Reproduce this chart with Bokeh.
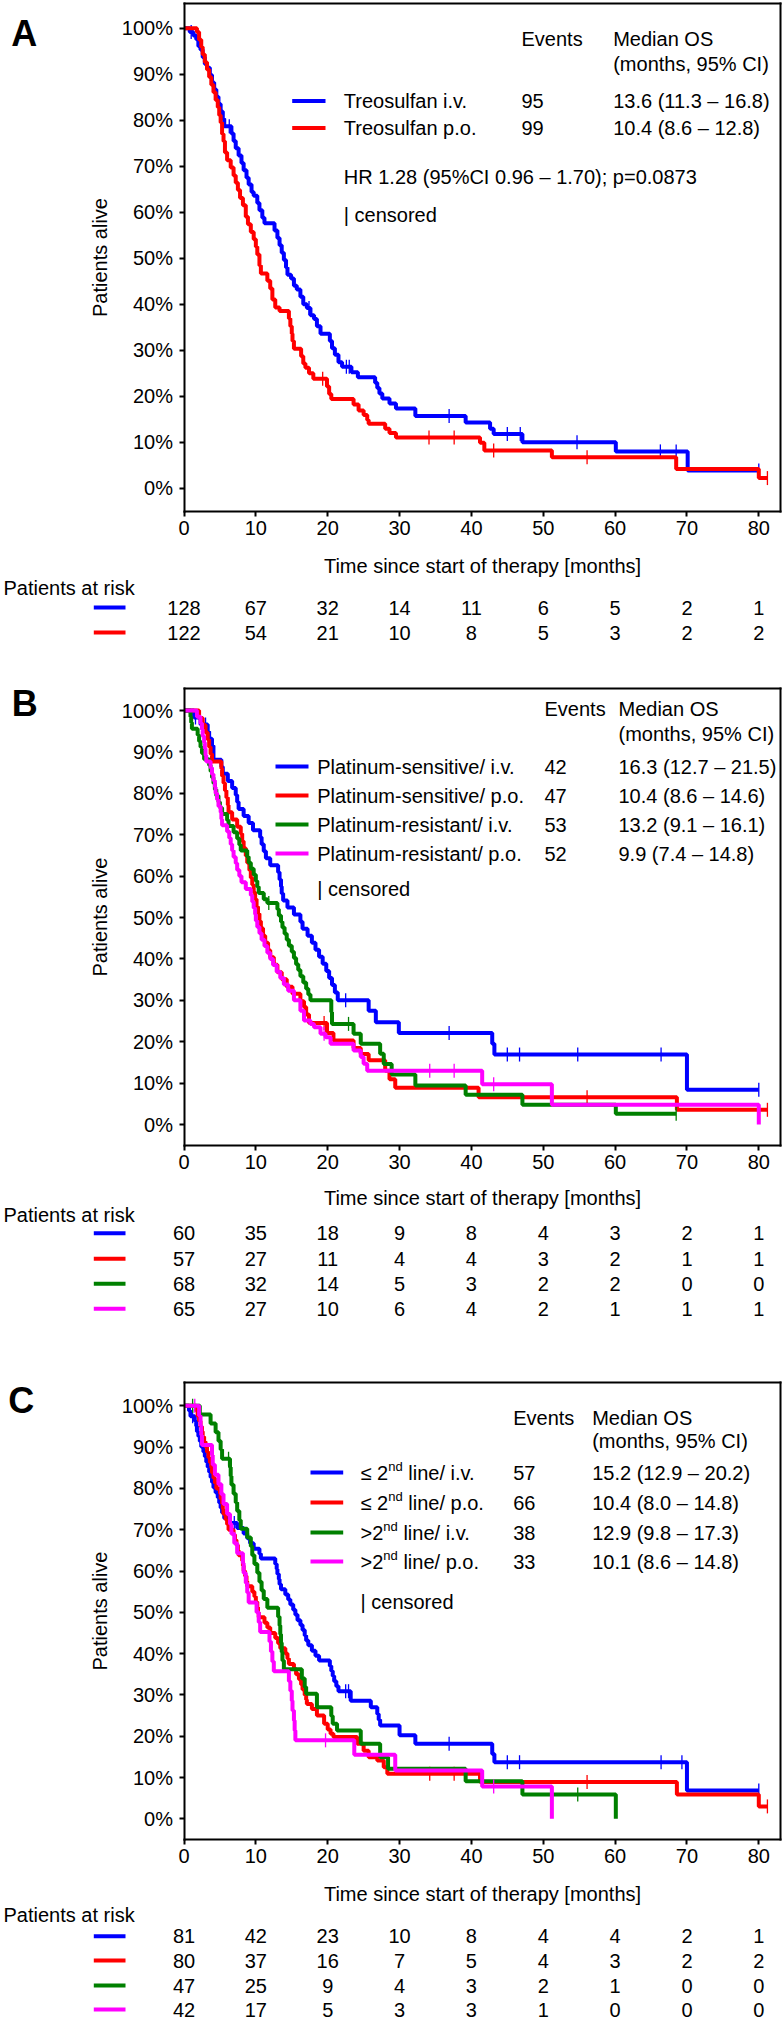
import math
from bokeh.plotting import figure
from bokeh.models import Range1d, FixedTicker, LinearAxis
from bokeh.embed import file_html
from bokeh.resources import INLINE
from bokeh.core.properties import value

# ---------------------------------------------------------------- data
X_TICKS = [0, 10, 20, 30, 40, 50, 60, 70, 80]
X_TICK_LABELS = ["0", "10", "20", "30", "40", "50", "60", "70", "80"]
Y_TICKS = [0, 10, 20, 30, 40, 50, 60, 70, 80, 90, 100]
Y_TICK_LABELS = ["0%", "10%", "20%", "30%", "40%", "50%", "60%", "70%", "80%", "90%", "100%"]
X_TITLE = "Time since start of therapy [months]"
Y_TITLE = "Patients alive"
RISK_TITLE = "Patients at risk"
HEAD_EVENTS = "Events"
HEAD_MEDIAN = "Median OS"
HEAD_MEDIAN2 = "(months, 95% CI)"
CENSORED = "| censored"

# Panel A: (time [months], survival [%]) after each step
A_IV = [(0, 100), (0.8, 99.2), (1.3, 98.4), (1.7, 97.6), (2.0, 96.1), (2.3, 95.3), (2.6, 93.7),
        (2.9, 92.2), (3.2, 91.4), (3.6, 89.8), (3.9, 88.2), (4.2, 86.7), (4.5, 85.1), (4.8, 83.5),
        (5.1, 81.9), (5.4, 80.3), (5.6, 78.7), (6.6, 77.1), (6.9, 75.5), (7.2, 73.9), (7.6, 72.3),
        (8.0, 70.7), (8.3, 69.1), (8.7, 67.5), (9.0, 66.0), (9.4, 64.4), (9.7, 63.6), (10.2, 62.0),
        (10.5, 60.4), (10.9, 58.8), (11.2, 57.6), (12.6, 56.0), (13.0, 54.4), (13.3, 52.8),
        (13.6, 51.2), (13.9, 49.6), (14.2, 48.0), (14.4, 46.4), (14.9, 45.6), (15.3, 44.0),
        (15.7, 43.2), (16.2, 41.6), (16.6, 40.0), (17.1, 39.2), (17.6, 37.6), (18.1, 36.8),
        (18.5, 35.2), (19.0, 33.6), (20.3, 32.0), (20.6, 30.4), (21.0, 29.0), (21.5, 27.4),
        (22.0, 26.4), (23.3, 25.2), (24.2, 24.1), (26.6, 22.9), (26.9, 21.8), (27.2, 20.6),
        (27.6, 19.5), (28.6, 18.4), (29.5, 17.3), (32.2, 15.7), (39.2, 14.3), (42.6, 12.9),
        (43.1, 11.8), (47.1, 10.0), (60.1, 8.0), (70.1, 3.85), (80.0, 3.85)]
A_IV_CENS = [1.0, 6.3, 17.4, 22.6, 23.0, 36.9, 45.0, 46.8, 54.7, 66.3, 68.5, 80.0]
A_PO = [(0, 100), (1.8, 99.2), (2.1, 97.5), (2.4, 95.9), (2.6, 94.3), (2.9, 92.6), (3.2, 91.0),
        (3.5, 89.4), (3.8, 87.7), (4.1, 86.1), (4.4, 84.4), (4.7, 82.8), (4.9, 81.1), (5.1, 79.5),
        (5.3, 77.0), (5.5, 75.4), (5.7, 73.0), (6.0, 71.3), (6.5, 69.7), (6.9, 68.0), (7.2, 66.4),
        (7.5, 64.8), (7.8, 63.1), (8.2, 61.5), (8.6, 59.0), (8.9, 57.4), (9.3, 55.7), (9.7, 54.1),
        (10.0, 52.5), (10.2, 50.8), (10.5, 48.4), (10.7, 46.7), (11.6, 45.1), (12.0, 43.4),
        (12.3, 41.0), (12.7, 39.3), (13.3, 38.5), (14.6, 36.9), (14.8, 35.2), (15.0, 33.6),
        (15.1, 32.0), (15.3, 30.3), (16.3, 28.7), (16.6, 27.1), (16.9, 26.2), (17.4, 25.0),
        (18.0, 23.8), (19.9, 22.1), (20.2, 20.5), (20.5, 19.4), (23.6, 18.2), (24.3, 16.9),
        (25.0, 15.9), (25.5, 14.8), (25.7, 14.0), (28.0, 12.9), (28.6, 12.0), (29.5, 11.0),
        (41.2, 9.9), (41.8, 8.2), (51.2, 6.75), (68.5, 4.2), (80.0, 2.2), (81.2, 2.2)]
A_PO_CENS = [19.3, 34.1, 37.6, 43.1, 56.1, 81.2]
A_NAMES = ["Treosulfan i.v.", "Treosulfan p.o."]
A_EVENTS = ["95", "99"]
A_MEDIANS = ["13.6 (11.3 \u2013 16.8)", "10.4 (8.6 \u2013 12.8)"]
A_HR = "HR 1.28 (95%CI 0.96 \u2013 1.70); p=0.0873"
A_RISK_IV = [128, 67, 32, 14, 11, 6, 5, 2, 1]
A_RISK_PO = [122, 54, 21, 10, 8, 5, 3, 2, 2]

# Panel B
B_S_IV = [(0, 100), (1.4, 98.3), (2.3, 96.6), (3.3, 94.9), (3.5, 93.2), (3.9, 91.5), (4.1, 88.1),
          (5.2, 86.4), (5.4, 84.7), (6.1, 83.0), (6.7, 81.3), (7.2, 79.6), (7.4, 77.9), (7.6, 76.2),
          (8.3, 74.5), (9.0, 72.8), (9.6, 71.1), (10.6, 69.4), (10.8, 67.7), (11.1, 66.0),
          (11.4, 64.3), (12.0, 62.6), (13.1, 60.9), (13.3, 59.2), (13.5, 57.5), (13.6, 55.8),
          (13.8, 54.1), (14.4, 52.4), (15.3, 50.7), (16.2, 49.0), (16.5, 47.3), (17.2, 45.6),
          (17.8, 43.9), (18.3, 42.2), (18.8, 40.5), (19.3, 38.8), (19.8, 37.1), (20.2, 35.4),
          (20.6, 33.7), (21.0, 31.9), (21.4, 30.0), (25.7, 27.5), (26.7, 24.7), (29.9, 22.1),
          (42.9, 19.5), (43.2, 16.9), (70.0, 8.4), (80.0, 8.4)]
B_S_IV_CENS = [1.6, 3.0, 22.5, 36.9, 45.0, 46.7, 54.8, 66.4, 80.0]
B_S_PO = [(0, 100), (2.1, 98.2), (2.6, 96.5), (3.0, 94.7), (3.3, 93.0), (3.5, 91.2), (3.7, 89.5),
          (3.9, 87.7), (5.2, 86.0), (5.3, 84.2), (5.5, 82.5), (5.7, 80.7), (5.9, 79.0), (6.1, 77.2),
          (6.2, 75.4), (6.7, 73.7), (7.4, 71.9), (7.9, 70.2), (8.1, 68.4), (8.3, 66.7), (8.6, 64.9),
          (8.8, 63.2), (9.1, 61.4), (9.3, 59.6), (9.5, 57.9), (9.7, 56.1), (9.9, 54.4), (10.1, 52.6),
          (10.3, 50.9), (10.5, 49.1), (10.7, 47.4), (11.0, 45.6), (11.3, 43.9), (11.7, 42.1),
          (12.0, 40.4), (12.5, 38.6), (13.0, 36.8), (13.6, 35.1), (14.3, 33.3), (15.1, 31.6),
          (16.2, 29.8), (16.7, 28.4), (17.0, 26.6), (17.4, 24.5), (19.9, 22.1), (20.8, 20.3),
          (23.6, 18.5), (24.6, 17.0), (25.7, 15.5), (28.0, 13.0), (28.6, 10.9), (29.4, 8.9),
          (41.0, 6.6), (68.6, 3.55), (81.2, 3.55)]
B_S_PO_CENS = [19.5, 56.1, 81.2]
B_R_IV = [(0, 100), (0.9, 98.5), (1.0, 97.1), (1.1, 95.6), (1.9, 94.1), (2.1, 92.6), (2.3, 91.2),
          (2.5, 89.7), (2.8, 88.2), (3.5, 86.8), (3.7, 85.3), (3.9, 83.8), (4.1, 82.4), (4.3, 80.9),
          (4.5, 79.4), (4.8, 77.9), (5.0, 76.5), (5.3, 75.0), (6.0, 73.5), (6.2, 72.1), (6.9, 70.6),
          (7.4, 69.1), (7.7, 67.6), (7.9, 66.2), (8.8, 64.7), (9.0, 63.2), (9.3, 61.8), (9.7, 60.3),
          (10.0, 58.8), (10.2, 57.4), (10.4, 55.9), (11.1, 54.4), (11.6, 53.5), (13.0, 52.0),
          (13.2, 50.5), (13.5, 49.0), (13.7, 47.6), (14.0, 46.1), (14.3, 44.6), (14.6, 43.2),
          (15.0, 41.7), (15.3, 40.2), (15.6, 38.7), (15.9, 37.3), (16.2, 35.8), (16.6, 34.3),
          (17.0, 32.8), (17.3, 31.4), (17.6, 30.0), (20.5, 27.2), (20.6, 24.3), (23.6, 21.9),
          (24.6, 19.5), (27.3, 17.1), (27.8, 14.6), (28.9, 12.1), (32.2, 9.4), (39.2, 7.2),
          (47.1, 4.8), (60.1, 2.6), (68.5, 2.6)]
B_R_IV_CENS = [11.8, 22.9, 68.5]
B_R_PO = [(0, 100), (1.8, 98.5), (2.3, 96.9), (2.5, 95.4), (2.6, 93.8), (2.8, 92.3), (2.9, 90.8),
          (3.0, 89.2), (3.1, 87.7), (3.7, 86.2), (3.9, 84.6), (4.1, 83.1), (4.3, 81.5), (4.4, 80.0),
          (4.6, 78.5), (4.8, 76.9), (5.1, 75.4), (5.2, 73.8), (5.3, 72.3), (6.0, 70.8), (6.3, 69.2),
          (6.5, 67.7), (6.7, 66.2), (6.9, 64.6), (7.2, 63.1), (7.4, 61.5), (7.7, 60.0), (8.0, 58.5),
          (8.6, 56.9), (9.3, 55.4), (9.5, 53.8), (9.7, 52.3), (9.9, 50.8), (10.0, 49.2),
          (10.2, 47.7), (10.5, 46.2), (10.8, 44.6), (11.2, 43.1), (11.6, 41.5), (12.0, 40.0),
          (12.4, 38.5), (12.9, 36.9), (13.4, 35.4), (13.9, 33.8), (14.5, 32.3), (15.3, 30.0),
          (16.2, 27.5), (16.7, 25.1), (17.6, 24.3), (18.1, 23.5), (19.0, 21.9), (19.7, 21.1),
          (20.4, 19.5), (23.6, 17.9), (24.6, 16.3), (25.0, 14.7), (25.5, 13.0), (41.5, 9.7),
          (51.2, 4.8), (80.0, 0.0)]
B_R_PO_CENS = [19.5, 34.2, 37.6, 43.1]
B_NAMES = ["Platinum-sensitive/ i.v.", "Platinum-sensitive/ p.o.",
           "Platinum-resistant/ i.v.", "Platinum-resistant/ p.o."]
B_EVENTS = ["42", "47", "53", "52"]
B_MEDIANS = ["16.3 (12.7 \u2013 21.5)", "10.4 (8.6 \u2013 14.6)",
             "13.2 (9.1 \u2013 16.1)", "9.9 (7.4 \u2013 14.8)"]
B_RISK_S_IV = [60, 35, 18, 9, 8, 4, 3, 2, 1]
B_RISK_S_PO = [57, 27, 11, 4, 4, 3, 2, 1, 1]
B_RISK_R_IV = [68, 32, 14, 5, 3, 2, 2, 0, 0]
B_RISK_R_PO = [65, 27, 10, 6, 4, 2, 1, 1, 1]

# Panel C
C_LE2_IV = [(0, 100), (0.7, 98.8), (0.9, 97.5), (1.5, 96.3), (1.7, 95.1), (1.8, 93.8), (2.0, 92.6),
            (2.2, 91.4), (2.4, 90.1), (2.7, 88.9), (2.9, 87.7), (3.1, 86.4), (3.3, 85.2), (3.5, 84.0),
            (3.7, 82.7), (3.9, 81.5), (4.1, 80.2), (4.4, 79.0), (4.7, 77.8), (4.9, 76.5), (5.1, 75.3),
            (5.3, 74.1), (5.6, 72.8), (6.4, 71.6), (7.4, 70.4), (8.3, 69.1), (8.8, 67.9), (9.2, 66.7),
            (9.7, 65.4), (10.5, 64.2), (10.7, 63.0), (12.7, 61.7), (12.9, 60.5), (13.0, 59.3),
            (13.2, 58.0), (13.3, 56.8), (13.5, 55.6), (14.1, 54.3), (14.5, 53.1), (14.8, 51.9),
            (15.2, 50.6), (15.5, 49.4), (15.8, 48.1), (16.2, 46.9), (16.5, 45.7), (16.8, 44.4),
            (17.0, 43.2), (17.3, 42.0), (17.8, 40.7), (18.3, 39.5), (18.8, 38.3), (20.3, 37.0),
            (20.5, 35.8), (20.7, 34.6), (20.9, 33.3), (21.2, 32.1), (21.5, 30.9), (23.2, 28.6),
            (26.0, 27.0), (26.9, 25.4), (27.1, 24.0), (27.3, 22.6), (30.0, 20.2), (32.2, 18.2),
            (42.9, 15.7), (43.2, 13.7), (70.0, 6.85), (80.0, 6.85)]
C_LE2_IV_CENS = [1.2, 7.0, 22.5, 22.9, 36.9, 45.0, 46.7, 66.4, 69.3, 80.0]
C_LE2_PO = [(0, 100), (1.7, 98.8), (1.9, 97.5), (2.1, 96.3), (2.3, 95.0), (2.5, 93.8), (2.6, 92.5),
            (2.8, 91.3), (3.0, 90.0), (3.2, 88.8), (3.4, 87.5), (3.6, 86.3), (3.8, 85.0), (3.9, 83.8),
            (4.1, 82.5), (4.3, 81.3), (4.5, 80.0), (5.0, 78.8), (5.1, 77.5), (5.3, 76.3), (5.4, 75.0),
            (5.5, 73.8), (5.8, 72.5), (6.0, 71.3), (6.2, 70.0), (6.9, 68.8), (7.1, 67.5), (7.3, 66.3),
            (7.5, 65.0), (7.6, 63.8), (8.1, 62.5), (8.2, 61.3), (8.3, 60.0), (8.5, 58.8), (8.7, 57.5),
            (8.8, 56.3), (9.5, 55.0), (9.8, 53.8), (10.0, 52.5), (10.2, 51.3), (10.3, 50.0),
            (10.4, 48.8), (11.2, 47.5), (11.6, 46.3), (12.0, 45.0), (12.7, 43.8), (13.1, 42.5),
            (13.4, 41.3), (14.1, 40.0), (14.4, 38.8), (14.6, 37.5), (15.3, 36.3), (15.6, 35.0),
            (16.0, 33.8), (16.3, 32.5), (16.5, 31.3), (16.8, 30.0), (17.0, 28.8), (17.1, 27.8),
            (17.8, 26.6), (18.5, 25.0), (19.5, 23.0), (20.0, 21.6), (20.4, 20.6), (20.8, 19.8),
            (24.1, 18.2), (25.0, 16.5), (25.7, 14.9), (26.9, 14.1), (27.8, 12.5), (28.3, 10.9),
            (41.2, 8.9), (68.6, 5.9), (80.0, 3.0), (81.2, 3.0)]
C_LE2_PO_CENS = [34.2, 37.6, 56.1, 81.2]
C_GT2_IV = [(0, 100), (2.2, 97.9), (3.7, 95.7), (4.4, 93.6), (4.8, 91.5), (5.1, 89.4), (5.3, 87.2),
            (6.4, 85.1), (6.5, 83.0), (6.6, 80.9), (6.9, 78.7), (7.2, 76.6), (7.4, 74.5), (7.7, 72.3),
            (7.9, 70.2), (8.8, 68.1), (9.3, 66.0), (9.5, 63.8), (9.8, 61.7), (10.2, 59.6),
            (10.5, 57.4), (10.8, 55.3), (11.1, 53.2), (11.6, 51.1), (13.1, 48.9), (13.3, 46.8),
            (13.4, 44.7), (13.5, 42.6), (13.6, 40.4), (13.7, 38.3), (13.9, 36.2), (16.4, 34.0),
            (16.8, 31.9), (17.0, 30.3), (18.5, 27.0), (20.5, 24.9), (20.7, 23.0), (21.3, 21.4),
            (24.6, 18.2), (27.3, 14.9), (28.4, 12.1), (39.2, 9.1), (47.1, 5.9), (60.1, 0.0)]
C_GT2_IV_CENS = [1.2, 6.2, 54.8]
C_GT2_PO = [(0, 100), (2.1, 97.6), (2.3, 95.2), (2.4, 92.9), (2.5, 90.5), (3.9, 88.1), (4.0, 85.7),
            (4.3, 83.3), (4.8, 81.0), (5.2, 78.6), (5.5, 76.2), (6.0, 73.8), (6.4, 71.4), (6.6, 69.0),
            (7.0, 66.7), (7.4, 64.3), (8.2, 61.9), (8.3, 59.5), (8.6, 57.1), (8.8, 54.8), (9.0, 52.4),
            (10.1, 50.0), (10.4, 47.6), (10.6, 45.2), (11.9, 42.9), (12.1, 40.5), (12.3, 38.1),
            (12.5, 35.7), (14.6, 33.3), (14.8, 31.0), (15.0, 28.6), (15.1, 26.2), (15.3, 23.8),
            (15.4, 21.4), (15.5, 19.0), (23.7, 15.5), (29.4, 11.7), (41.5, 7.8), (51.2, 0.0)]
C_GT2_PO_CENS = [1.5, 19.7, 43.1]
C_NAME_PRE = ["\u2264 2", "\u2264 2", ">2", ">2"]
C_NAME_SUP = ["nd", "nd", "nd", "nd"]
C_NAME_POST = ["line/ i.v.", "line/ p.o.", "line/ i.v.", "line/ p.o."]
C_EVENTS = ["57", "66", "38", "33"]
C_MEDIANS = ["15.2 (12.9 \u2013 20.2)", "10.4 (8.0 \u2013 14.8)",
             "12.9 (9.8 \u2013 17.3)", "10.1 (8.6 \u2013 14.8)"]
C_RISK_LE2_IV = [81, 42, 23, 10, 8, 4, 4, 2, 1]
C_RISK_LE2_PO = [80, 37, 16, 7, 5, 4, 3, 2, 2]
C_RISK_GT2_IV = [47, 25, 9, 4, 3, 2, 1, 0, 0]
C_RISK_GT2_PO = [42, 17, 5, 3, 3, 1, 0, 0, 0]

# ---------------------------------------------------------------- style / layout
BLUE, RED, GREEN, MAGENTA = "#0000ff", "#ff0000", "#008000", "#ff00ff"
FONT = "Liberation Sans"
FS = "20px"
W, H = 784, 2020
X0_PX = 183.5          # page x of month 0
SCALE = 7.185          # px per month
X_RIGHT = 83.0         # right edge of the plot boxes (months)

p = figure(width=W, height=H, output_backend="svg", toolbar_location=None,
           x_range=Range1d(-X0_PX / SCALE, (W - X0_PX) / SCALE), y_range=Range1d(H, 0),
           x_axis_location=None, y_axis_location=None,
           min_border_left=0, min_border_right=0, min_border_top=0, min_border_bottom=0)
p.outline_line_color = None
p.background_fill_color = "white"
p.border_fill_color = "white"
p.grid.visible = False
p.extra_x_ranges = {"px": Range1d(0, W)}

# each panel: y of 0 % on the page and px per 1 %
PANELS = {"A": (487.7, 4.60), "B": (1124.0, 4.14), "C": (1818.3, 4.13)}
p.extra_y_ranges = {k: Range1d((z - H) / s, z / s) for k, (z, s) in PANELS.items()}


def style_axis(ax):
    ax.minor_tick_line_color = None
    ax.major_tick_in = 0
    ax.major_tick_out = 5
    ax.major_tick_line_width = 2
    ax.major_tick_line_color = "black"
    ax.axis_line_width = 2
    ax.axis_line_color = "black"
    ax.axis_line_cap = "square"
    ax.major_label_text_font = FONT
    ax.major_label_text_font_size = FS
    ax.major_label_text_color = "black"
    ax.axis_label_text_font = FONT
    ax.axis_label_text_font_size = FS
    ax.axis_label_text_font_style = "normal"
    ax.axis_label_text_color = "black"


def panel_axes(name, y_bot, y_top, x_als):
    ya = LinearAxis(y_range_name=name, fixed_location=0, bounds=(y_bot, y_top),
                    ticker=FixedTicker(ticks=Y_TICKS),
                    major_label_overrides=dict(zip(Y_TICKS, Y_TICK_LABELS)), axis_label=Y_TITLE)
    style_axis(ya)
    ya.major_label_standoff = 6
    ya.axis_label_standoff = 8
    p.add_layout(ya, "left")
    xa = LinearAxis(y_range_name=name, fixed_location=y_bot, bounds=(0, X_RIGHT),
                    ticker=FixedTicker(ticks=X_TICKS),
                    major_label_overrides=dict(zip(X_TICKS, X_TICK_LABELS)), axis_label=X_TITLE)
    style_axis(xa)
    xa.major_label_standoff = 5
    xa.axis_label_standoff = x_als
    p.add_layout(xa, "below")
    ta = LinearAxis(y_range_name=name, fixed_location=y_top, bounds=(0, X_RIGHT),
                    ticker=FixedTicker(ticks=[]))
    style_axis(ta)
    p.add_layout(ta, "above")
    ra = LinearAxis(y_range_name=name, fixed_location=X_RIGHT, bounds=(y_bot, y_top),
                    ticker=FixedTicker(ticks=[]))
    style_axis(ra)
    p.add_layout(ra, "right")


def txt(x, y, s, align="left", size=FS, x_off=0, y_off=0, style="normal"):
    p.text(x=[x], y=[y], text=[s], x_range_name="px", text_align=align,
           text_baseline="middle", text_font=value(FONT), text_font_size=size,
           text_font_style=style, text_color="black", x_offset=x_off, y_offset=y_off)


def surv_at(pairs, t):
    s = pairs[0][1]
    for tt, ss in pairs:
        if tt <= t:
            s = ss
    return s


def curves(name, series):
    for pairs, cens, color in series:
        p.step(x=[a for a, b in pairs], y=[b for a, b in pairs], mode="after",
               y_range_name=name, line_color=color, line_width=4)
        p.scatter(x=cens, y=[surv_at(pairs, c) for c in cens], y_range_name=name,
                  marker="dash", angle=math.pi / 2, size=14, line_color=color, line_width=1.3)


def legend(lg, colors, events, medians, names=None, parts=None):
    txt(lg["ev_x"], lg["head_y"][0], HEAD_EVENTS)
    txt(lg["med_x"], lg["head_y"][0], HEAD_MEDIAN)
    txt(lg["med_x"], lg["head_y"][1], HEAD_MEDIAN2)
    for i, y in enumerate(lg["rows"]):
        p.segment(x0=[lg["line_x"][0]], x1=[lg["line_x"][1]], y0=[y], y1=[y],
                  x_range_name="px", line_color=colors[i], line_width=4)
        if names is not None:
            txt(lg["text_x"], y, names[i])
        else:
            pre, sup, post = parts[i]
            w_pre = 27.7 if pre.startswith("\u2264") else 22.8
            txt(lg["text_x"], y, pre)
            txt(lg["text_x"], y, sup, size="13px", x_off=w_pre, y_off=-6)
            txt(lg["text_x"], y, post, x_off=w_pre + 14.5 + 5.6)
        txt(lg["ev_x"], y, events[i])
        txt(lg["med_x"], y, medians[i])
    if "hr" in lg:
        txt(lg["text_x"], lg["hr"][1], lg["hr"][0])
    txt(lg["text_x"], lg["cens_y"], CENSORED)


def risk(title_y, rows, risks, colors):
    txt(3, title_y, RISK_TITLE)
    for y, vals, c in zip(rows, risks, colors):
        p.segment(x0=[93.3], x1=[125.0], y0=[y], y1=[y], x_range_name="px",
                  line_color=c, line_width=4)
        p.text(x=X_TICKS, y=[y] * len(X_TICKS), text=[str(v) for v in vals],
               text_align="center", text_baseline="middle", text_font=value(FONT),
               text_font_size=FS, text_color="black")


# ---------------- panel A
curves("A", [(A_IV, A_IV_CENS, BLUE), (A_PO, A_PO_CENS, RED)])
panel_axes("A", -5.0, 105.37, 16)
legend(dict(line_x=(291.7, 325.0), text_x=343.3, ev_x=521.0, med_x=612.7,
            head_y=(38.5, 63.0), rows=[100.5, 127.5], hr=(A_HR, 176.0), cens_y=214.0),
       [BLUE, RED], A_EVENTS, A_MEDIANS, names=A_NAMES)
risk(587, [607, 632], [A_RISK_IV, A_RISK_PO], [BLUE, RED])
txt(23.8, 32.7, "A", align="center", size="36px", style="bold")

# ---------------- panel B
curves("B", [(B_S_IV, B_S_IV_CENS, BLUE), (B_S_PO, B_S_PO_CENS, RED),
             (B_R_IV, B_R_IV_CENS, GREEN), (B_R_PO, B_R_PO_CENS, MAGENTA)])
panel_axes("B", -5.07, 105.4, 14)
legend(dict(line_x=(275.0, 308.0), text_x=316.7, ev_x=544.0, med_x=618.0,
            head_y=(708.0, 733.0), rows=[766.0, 795.0, 824.0, 853.0], cens_y=888.0),
       [BLUE, RED, GREEN, MAGENTA], B_EVENTS, B_MEDIANS, names=B_NAMES)
risk(1214, [1232.7, 1258.3, 1283.3, 1308.3],
     [B_RISK_S_IV, B_RISK_S_PO, B_RISK_R_IV, B_RISK_R_PO], [BLUE, RED, GREEN, MAGENTA])
txt(24.2, 702.5, "B", align="center", size="36px", style="bold")

# ---------------- panel C
curves("C", [(C_LE2_IV, C_LE2_IV_CENS, BLUE), (C_LE2_PO, C_LE2_PO_CENS, RED),
             (C_GT2_IV, C_GT2_IV_CENS, GREEN), (C_GT2_PO, C_GT2_PO_CENS, MAGENTA)])
panel_axes("C", -5.01, 105.57, 16)
legend(dict(line_x=(310.0, 342.7), text_x=360.0, ev_x=512.7, med_x=591.7,
            head_y=(1417.3, 1440.0), rows=[1472.0, 1502.0, 1532.0, 1561.0], cens_y=1601.0),
       [BLUE, RED, GREEN, MAGENTA], C_EVENTS, C_MEDIANS,
       parts=list(zip(C_NAME_PRE, C_NAME_SUP, C_NAME_POST)))
risk(1914, [1935.7, 1960.0, 1985.0, 2009.0],
     [C_RISK_LE2_IV, C_RISK_LE2_PO, C_RISK_GT2_IV, C_RISK_GT2_PO], [BLUE, RED, GREEN, MAGENTA])
txt(20.8, 1400.3, "C", align="center", size="36px", style="bold")

open("out.html", "w").write(file_html(p, INLINE))
